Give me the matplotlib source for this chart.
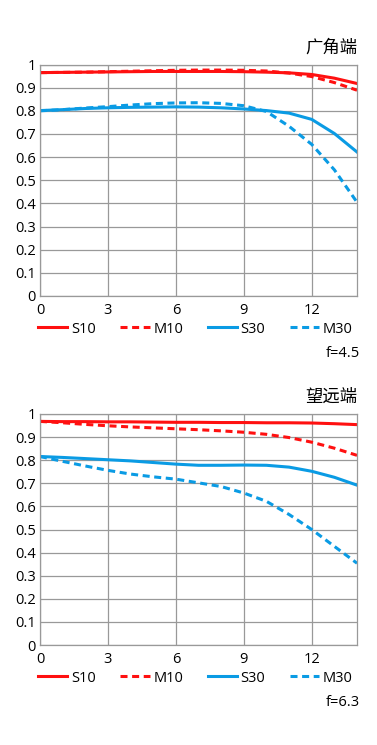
import matplotlib.pyplot as plt
import numpy as np

plt.rcParams['font.family'] = ['Open Sans', 'Noto Sans CJK SC', 'DejaVu Sans']

# image height (mm)
x = list(range(0, 15))

# wide end (广角端), f=4.5
wide_s10 = [0.965, 0.966, 0.967, 0.968, 0.969, 0.970, 0.970, 0.970, 0.970, 0.969, 0.967, 0.964, 0.957, 0.941, 0.918]
wide_m10 = [0.965, 0.966, 0.967, 0.969, 0.971, 0.973, 0.975, 0.976, 0.976, 0.975, 0.972, 0.963, 0.948, 0.922, 0.889]
wide_s30 = [0.801, 0.805, 0.810, 0.813, 0.815, 0.816, 0.817, 0.816, 0.813, 0.808, 0.801, 0.790, 0.763, 0.702, 0.622]
wide_m30 = [0.800, 0.805, 0.812, 0.818, 0.825, 0.831, 0.834, 0.835, 0.832, 0.822, 0.797, 0.733, 0.655, 0.545, 0.405]

# tele end (望远端), f=6.3
tele_s10 = [0.968, 0.967, 0.967, 0.966, 0.966, 0.965, 0.964, 0.964, 0.963, 0.963, 0.962, 0.962, 0.961, 0.958, 0.954]
tele_m10 = [0.968, 0.962, 0.955, 0.949, 0.944, 0.940, 0.936, 0.932, 0.927, 0.921, 0.912, 0.898, 0.878, 0.852, 0.821]
tele_s30 = [0.816, 0.812, 0.807, 0.802, 0.797, 0.790, 0.783, 0.778, 0.778, 0.779, 0.778, 0.770, 0.752, 0.726, 0.692]
tele_m30 = [0.816, 0.795, 0.775, 0.756, 0.740, 0.728, 0.718, 0.702, 0.686, 0.658, 0.622, 0.565, 0.500, 0.427, 0.354]

titles = ['广角端', '望远端']
fnums = ['f=4.5', 'f=6.3']
labels = ['S10', 'M10', 'S30', 'M30']

red = '#ff1010'
blue = '#0a9be4'

fig = plt.figure(figsize=(3.77, 7.45), dpi=100)
axes_pos = [[0.106, 0.6027, 0.841, 0.3107], [0.106, 0.1342, 0.841, 0.3101]]
datasets = [[wide_s10, wide_m10, wide_s30, wide_m30],
            [tele_s10, tele_m10, tele_s30, tele_m30]]

for k in range(2):
    ax = fig.add_axes(axes_pos[k])
    s10, m10, s30, m30 = datasets[k]
    ax.plot(x, s10, color=red, lw=2.2, label=labels[0])
    ax.plot(x, m10, color=red, lw=2.2, dashes=(2.3, 1.5), label=labels[1])
    ax.plot(x, s30, color=blue, lw=2.2, label=labels[2])
    ax.plot(x, m30, color=blue, lw=2.2, dashes=(2.3, 1.5), label=labels[3])
    ax.set_xlim(0, 14)
    ax.set_ylim(0, 1)
    ax.set_xticks([0, 3, 6, 9, 12])
    ax.set_yticks(np.arange(0, 1.01, 0.1))
    ax.set_yticklabels(['0', '0.1', '0.2', '0.3', '0.4', '0.5', '0.6', '0.7', '0.8', '0.9', '1'])
    ax.grid(True, color='#999999', lw=0.9)
    ax.set_axisbelow(True)
    for sp in ax.spines.values():
        sp.set_color('#999999')
        sp.set_linewidth(0.9)
    ax.tick_params(length=0, labelsize=10.5, colors='black')
    ax.tick_params(axis='x', pad=5)
    ax.tick_params(axis='y', pad=3)
    ax.text(1.0, 1.071, titles[k], transform=ax.transAxes, ha='right', va='center', fontsize=12.5)
    ax.legend(loc='center left', bbox_to_anchor=(-0.006, -0.143), ncol=4, frameon=False,
              fontsize=10.5, handlelength=2.0, handletextpad=0.25, columnspacing=1.7,
              borderaxespad=0, borderpad=0)
    ax.text(1.009, -0.247, fnums[k], transform=ax.transAxes, ha='right', va='center', fontsize=10.5)

fig.savefig('out.png', dpi=100)
